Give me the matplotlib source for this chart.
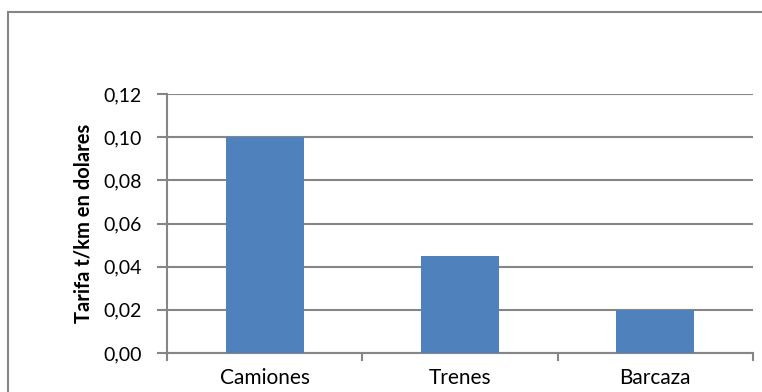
import matplotlib.pyplot as plt
from matplotlib.patches import Rectangle
from matplotlib.ticker import FuncFormatter, FixedLocator

# datos
categorias = ['Camiones', 'Trenes', 'Barcaza']
tarifas = [0.10, 0.045, 0.02]
yticks = [0.00, 0.02, 0.04, 0.06, 0.08, 0.10, 0.12]

plt.rcParams['font.family'] = ['Lato', 'DejaVu Sans']

gris = '#868686'
azul = '#4f81bd'

fig = plt.figure(figsize=(7.62, 3.92), dpi=100)
ax = fig.add_axes([167 / 762, 39 / 392, 586 / 762, 259 / 392])

# marco exterior del gráfico
fig.patches.append(Rectangle((8 / 762, -0.2), 1.2, (392 - 12) / 392 + 0.2,
                             transform=fig.transFigure, fill=False,
                             edgecolor=gris, linewidth=1.5))

x = range(len(categorias))
ax.bar(x, tarifas, width=0.4, color=azul, zorder=3)

ax.set_xlim(-0.5, len(categorias) - 0.5)
ax.set_ylim(0, 0.12)
ax.set_yticks(yticks)
ax.yaxis.set_major_formatter(FuncFormatter(lambda v, p: f'{v:.2f}'.replace('.', ',')))

ax.set_xticks(list(x))
ax.set_xticklabels(categorias, fontsize=15)
ax.xaxis.set_minor_locator(FixedLocator([-0.5, 0.5, 1.5, 2.5]))
ax.tick_params(axis='x', which='major', length=0, pad=11)
ax.tick_params(axis='x', which='minor', length=6, width=1.5, color=gris)
ax.tick_params(axis='y', length=7, width=1.5, color=gris, labelsize=14, pad=11)

ax.grid(axis='y', color=gris, linewidth=1.5, zorder=0)
ax.set_axisbelow(True)
for s in ['top', 'right']:
    ax.spines[s].set_visible(False)
for s in ['left', 'bottom']:
    ax.spines[s].set_color(gris)
    ax.spines[s].set_linewidth(1.5)

ax.set_ylabel('Tarifa t/km en dolares', fontsize=14.5, fontweight='bold')
ax.yaxis.set_label_coords(-73 / 586, 0.5)

plt.savefig('out.png', dpi=100)
